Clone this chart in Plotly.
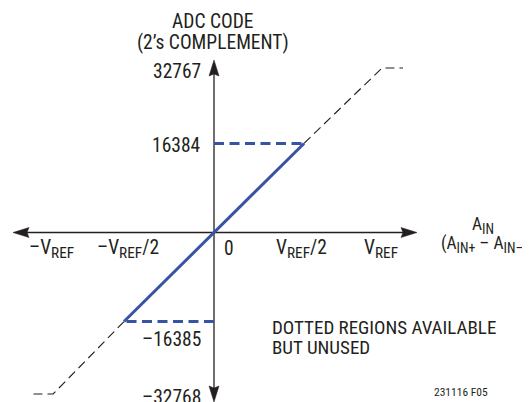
import plotly.graph_objects as go

# ---------------- data (schematic transfer function) ----------------
# input axis in units of VREF, output axis in ADC codes (diagram coordinates)
vin_used = [-0.5, 0.5]
code_used = [-16385, 16384]

vin_upper_unused = [0.5, 0.933, 1.05]
code_upper_unused = [16384, 30268, 30268]

vin_lower_unused = [-0.5, -0.894, -1.011]
code_lower_unused = [-16385, -29716, -29716]

SUB_REF = "<sub><span style='font-size:112%'>REF</span></sub>"
SUB_IN = "<sub><span style='font-size:112%'>IN</span></sub>"
x_tick_text = ["–V" + SUB_REF, "–V" + SUB_REF + "/2", "0", "V" + SUB_REF + "/2", "V" + SUB_REF]
y_tick_text = ["32767", "16384", "–16385", "–32768"]

# ---------------- geometry ----------------
PAGE_OFF = 8                      # page body margin
W, H = 530 - PAGE_OFF, 402 - PAGE_OFF
OX, OY = 214.0, 232.5             # pixel position of origin in the window
PX_PER_VREF = 180.0
CODES_PER_PX = 184.0

fx0, fy0 = OX - PAGE_OFF, OY - PAGE_OFF
x_range = [-fx0 / PX_PER_VREF, (W - fx0) / PX_PER_VREF]
y_range = [-(H - fy0) * CODES_PER_PX, fy0 * CODES_PER_PX]

def px2x(px):
    return (px - OX) / PX_PER_VREF

def py2y(py):
    return (OY - py) * CODES_PER_PX

def pxp(px):
    return (px - PAGE_OFF) / W

def pyp(py):
    return 1 - (py - PAGE_OFF) / H

BLUE = "#3953a4"
INK = "#231f20"
FONT = "Roboto Condensed, Roboto, Liberation Sans, sans-serif"

fig = go.Figure()

for xs, ys in [(vin_upper_unused, code_upper_unused), (vin_lower_unused, code_lower_unused)]:
    fig.add_trace(go.Scatter(x=xs, y=ys, mode="lines",
                             line=dict(color=INK, width=1.1, dash="9px,5px"),
                             hoverinfo="skip", showlegend=False))

fig.add_trace(go.Scatter(x=[0, vin_used[1]], y=[code_used[1], code_used[1]], mode="lines",
                         line=dict(color=BLUE, width=3, dash="10px,5.5px"),
                         hoverinfo="skip", showlegend=False))
fig.add_trace(go.Scatter(x=[0, vin_used[0]], y=[code_used[0], code_used[0]], mode="lines",
                         line=dict(color=BLUE, width=3, dash="10px,5.5px"),
                         hoverinfo="skip", showlegend=False))

fig.add_trace(go.Scatter(x=vin_used, y=code_used, mode="lines",
                         line=dict(color=BLUE, width=3),
                         hoverinfo="skip", showlegend=False))

x_axis_min, x_axis_max = px2x(13), px2x(417)
y_axis_min, y_axis_max = py2y(402), py2y(60)

shapes = [
    dict(type="line", x0=x_axis_min + 0.02, x1=x_axis_max - 0.02, y0=0, y1=0,
         line=dict(color=INK, width=1.3), layer="below"),
    dict(type="line", x0=0, x1=0, y0=y_axis_min + 1000, y1=y_axis_max - 1000,
         line=dict(color=INK, width=1.3), layer="below"),
]
arrow_paths = [
    (0, y_axis_max, "M0,0 L-5,-16 L0,-14 L5,-16 Z"),
    (0, y_axis_min, "M0,0 L-5,16 L0,14 L5,16 Z"),
    (x_axis_min, 0, "M0,0 L16,-5 L14,0 L16,5 Z"),
    (x_axis_max, 0, "M0,0 L-16,-5 L-14,0 L-16,5 Z"),
]
for ax_, ay_, path in arrow_paths:
    shapes.append(dict(type="path", xref="x", yref="y", xsizemode="pixel", ysizemode="pixel",
                       xanchor=ax_, yanchor=ay_, path=path,
                       fillcolor=INK, line=dict(color=INK, width=0.5)))

ann = []

def txt(text, x, y, size=19.5, xanchor="center", yanchor="middle"):
    ann.append(dict(text=text, xref="paper", yref="paper", x=pxp(x), y=pyp(y),
                    xanchor=xanchor, yanchor=yanchor, showarrow=False,
                    font=dict(family=FONT, size=size, color=INK)))

txt("ADC CODE", 213, 21)
txt("(2’s COMPLEMENT)", 213, 42.5)

for t, py in zip(y_tick_text, [71.5, 145, 339.5, 397.5]):
    txt(t, 203, py, xanchor="right")

for t, px in zip(x_tick_text, [51, 128, 229, 301, 381]):
    txt(t, px, 248.5)

txt("A" + SUB_IN, 483, 225, size=17.5)
txt("(A<sub><span style='font-size:112%'>IN+</span></sub> – A<sub><span style='font-size:112%'>IN–</span></sub>)",
    485, 244.5, size=17.5)

txt("DOTTED REGIONS AVAILABLE", 270, 327, xanchor="left", size=19)
txt("BUT UNUSED", 270, 347.5, xanchor="left", size=19)

txt("231116 F05", 461, 392, size=11.5)

fig.update_layout(
    width=W, height=H,
    margin=dict(l=0, r=0, t=0, b=0),
    paper_bgcolor="white", plot_bgcolor="white",
    xaxis=dict(range=x_range, visible=False, fixedrange=True),
    yaxis=dict(range=y_range, visible=False, fixedrange=True),
    shapes=shapes, annotations=ann, showlegend=False,
)

fig.write_html("out.html")
